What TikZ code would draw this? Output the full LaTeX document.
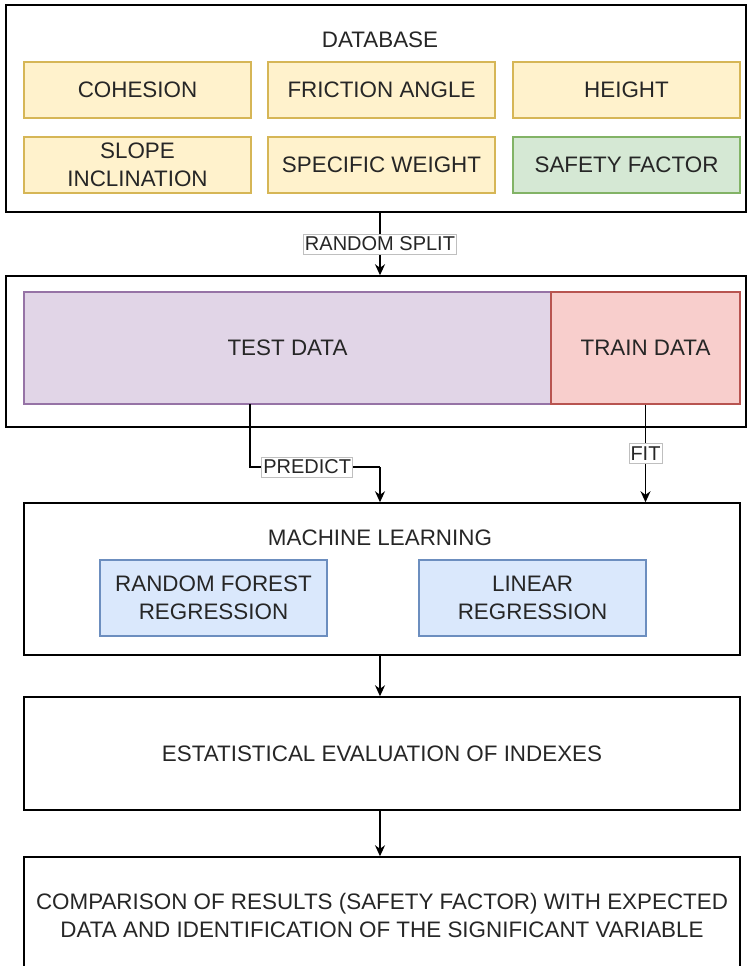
\documentclass[tikz,border=0pt]{standalone}
\usepackage{fontspec}
\setmainfont{Liberation Sans}
\usetikzlibrary{arrows.meta}

\definecolor{yelfill}{HTML}{FFF2CC}
\definecolor{yelline}{HTML}{D6B656}
\definecolor{grnfill}{HTML}{D5E8D4}
\definecolor{grnline}{HTML}{82B366}
\definecolor{purfill}{HTML}{E1D5E7}
\definecolor{purline}{HTML}{9673A6}
\definecolor{redfill}{HTML}{F8CECC}
\definecolor{redline}{HTML}{B85450}
\definecolor{blufill}{HTML}{DAE8FC}
\definecolor{bluline}{HTML}{6C8EBF}
\definecolor{txtgray}{HTML}{262626}

\newcommand{\boxfont}{\fontsize{22.4}{28}\selectfont}

\begin{document}
\begin{tikzpicture}[
    x=1pt, y=-1pt,
    frame/.style={rectangle, draw=black, line width=1.5pt, align=center, text=txtgray, font=\boxfont},
    field/.style={rectangle, draw=yelline, fill=yelfill, line width=1.5pt, minimum width=227pt, minimum height=56pt, align=center, text=txtgray, font=\boxfont},
    target/.style={field, draw=grnline, fill=grnfill},
    model/.style={rectangle, draw=bluline, fill=blufill, line width=1.5pt, minimum width=227pt, minimum height=76pt, align=center, text=txtgray, font=\boxfont},
    title/.style={text=txtgray, font=\boxfont},
    lbl/.style={fill=white, draw=black!25, line width=0.75pt, inner xsep=1.5pt, inner ysep=3pt, text=txtgray, font=\fontsize{20}{22}\selectfont},
    arrow/.style={-{Stealth[length=11pt, width=10pt]}, line width=1.5pt}
]
\useasboundingbox (0,0) rectangle (747,966);
\clip (0,0) rectangle (747,966);

% Database
\node[frame, minimum width=740pt, minimum height=207pt] (db) at (376,108.5) {};
\node[title] (dbtitle) at (380,40) {DATABASE};
\node[field] (coh) at (137.5,90) {COHESION};
\node[field] (fric) at (381.5,90) {FRICTION ANGLE};
\node[field] (hgt) at (626.5,90) {HEIGHT};
\node[field] (slope) at (137.5,165) {SLOPE\\INCLINATION};
\node[field] (spw) at (381.5,165) {SPECIFIC WEIGHT};
\node[target] (sf) at (626.5,165) {SAFETY FACTOR};

% Split
\node[frame, minimum width=740pt, minimum height=151pt] (split) at (376,351.5) {};
\node[rectangle, draw=purline, fill=purfill, line width=1.5pt, minimum width=527pt, minimum height=112pt, text=txtgray, font=\boxfont] (test) at (287.5,348) {TEST DATA};
\node[rectangle, draw=redline, fill=redfill, line width=1.5pt, minimum width=189pt, minimum height=112pt, text=txtgray, font=\boxfont] (train) at (645.5,348) {TRAIN DATA};

% Models
\node[frame, minimum width=716pt, minimum height=152pt] (ml) at (382,579) {};
\node[title] (mltitle) at (380,538) {MACHINE LEARNING};
\node[model] (rf) at (213.5,598) {RANDOM FOREST\\REGRESSION};
\node[model] (lr) at (532.5,598) {LINEAR\\REGRESSION};

\node[frame, minimum width=716pt, minimum height=113pt] (stat) at (382,753.5) {ESTATISTICAL EVALUATION OF INDEXES};
\node[frame, minimum width=716pt, minimum height=116pt] (comp) at (382,915) {COMPARISON OF RESULTS (SAFETY FACTOR) WITH EXPECTED\\DATA AND IDENTIFICATION OF THE SIGNIFICANT VARIABLE};

\coordinate (testout) at (250,404);
\coordinate (predjoin) at (380,467);

\draw[arrow] (db.south -| dbtitle) -- node[lbl] {RANDOM SPLIT} (split.north -| dbtitle);
\draw[line width=1.5pt] (testout) |- node[lbl, pos=0.72] {PREDICT} (predjoin);
\draw[arrow] (predjoin) -- (ml.north -| predjoin);
\draw[arrow] (train.south) -- node[lbl] {FIT} (ml.north -| train.south);
\draw[arrow] (ml.south -| mltitle) -- (stat.north -| mltitle);
\draw[arrow] (stat.south -| mltitle) -- (comp.north -| mltitle);
\end{tikzpicture}
\end{document}
